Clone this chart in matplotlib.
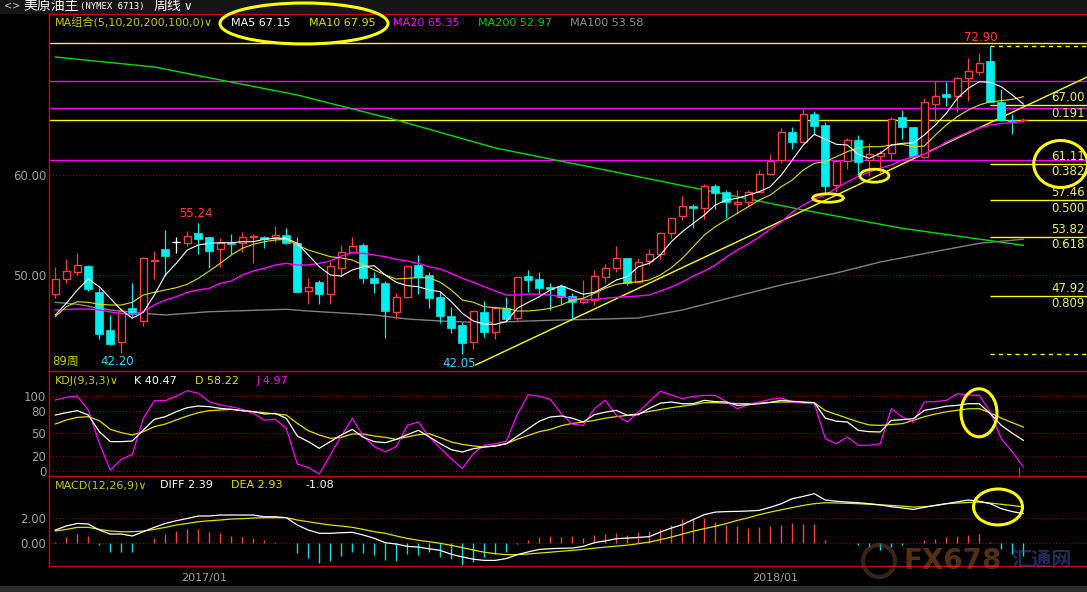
import numpy as np
import matplotlib.pyplot as plt
from matplotlib.patches import Ellipse, Rectangle

plt.rcParams['font.family'] = ['DejaVu Sans', 'Noto Sans CJK SC']

# weekly candles, 89 weeks (index 0..88)
opens = [48.07, 49.57, 50.27, 50.90, 48.27, 44.50, 43.27, 46.67, 45.43, 51.40,
         52.60, 53.27, 53.23, 54.17, 53.77, 52.57, 53.17, 53.17, 53.77, 53.77,
         53.83, 54.00, 53.17, 48.43, 49.27, 48.13, 50.67, 52.27, 53.00, 49.67,
         49.17, 46.33, 47.83, 51.00, 50.00, 47.80, 45.90, 45.00, 43.27, 46.30,
         44.33, 46.67, 45.67, 49.90, 49.60, 48.77, 48.93, 47.90, 47.27, 47.50,
         49.83, 50.67, 51.67, 49.33, 51.43, 52.07, 54.17, 55.93, 56.87, 56.73,
         58.90, 58.27, 57.13, 57.33, 58.33, 60.10, 61.50, 64.27, 63.33, 66.07,
         65.00, 59.00, 61.43, 63.50, 61.50, 61.90, 62.17, 65.77, 64.77, 61.83,
         67.07, 68.10, 67.93, 69.67, 70.33, 71.40, 67.33, 65.50, 65.45]
highs = [50.83, 51.60, 52.17, 51.00, 48.67, 46.00, 46.67, 49.17, 51.80, 52.40,
         54.50, 53.83, 54.40, 55.24, 53.77, 53.67, 54.07, 54.27, 54.07, 53.93,
         54.93, 54.67, 53.77, 49.67, 49.50, 51.33, 53.00, 53.77, 53.17, 50.27,
         49.40, 48.23, 50.90, 52.00, 50.27, 48.33, 46.77, 45.33, 46.37, 47.40,
         46.93, 47.80, 49.77, 50.50, 50.27, 49.17, 49.07, 48.17, 49.50, 50.50,
         51.10, 52.90, 51.67, 51.67, 52.60, 54.33, 55.67, 57.93, 57.10, 59.07,
         59.07, 58.50, 58.50, 58.50, 60.50, 62.10, 64.73, 64.80, 66.60, 66.40,
         65.27, 61.50, 63.73, 64.00, 63.17, 62.50, 65.83, 66.50, 64.80, 67.73,
         69.40, 69.27, 69.83, 71.73, 72.17, 72.90, 68.57, 66.10, 65.70]
lows = [47.73, 49.17, 50.00, 48.40, 43.60, 43.03, 42.20, 45.83, 44.90, 49.57,
        49.93, 52.17, 52.93, 52.07, 50.67, 50.83, 52.07, 52.27, 51.17, 52.67,
        53.33, 53.07, 48.33, 47.07, 47.07, 47.07, 49.83, 52.27, 49.17, 48.23,
        43.73, 45.57, 47.73, 48.10, 46.73, 45.23, 44.23, 42.05, 42.60, 43.83,
        43.60, 45.40, 45.40, 48.27, 48.07, 46.50, 47.07, 45.50, 47.07, 47.00,
        49.17, 50.27, 49.00, 49.17, 51.00, 51.60, 53.73, 55.50, 54.73, 55.60,
        56.60, 55.73, 56.07, 56.83, 58.33, 60.00, 61.17, 62.60, 63.23, 64.00,
        58.07, 58.27, 60.60, 60.00, 59.93, 60.17, 61.40, 63.57, 61.80, 61.70,
        65.27, 66.93, 66.30, 67.40, 70.00, 67.33, 65.40, 64.05, 65.25]
closes = [49.60, 50.37, 50.97, 48.60, 44.13, 43.13, 46.40, 46.07, 51.67, 51.45,
          51.93, 53.27, 53.87, 53.63, 52.43, 53.17, 53.10, 53.83, 53.93, 53.63,
          53.97, 53.17, 48.33, 48.77, 48.10, 50.87, 52.27, 52.90, 49.67, 49.17,
          46.43, 47.83, 50.90, 49.77, 47.73, 45.93, 44.73, 43.23, 46.37, 44.33,
          46.67, 45.60, 49.77, 49.50, 48.73, 48.63, 47.83, 47.33, 47.60, 49.90,
          50.67, 51.67, 49.17, 51.33, 52.07, 54.17, 55.67, 56.87, 56.73, 58.90,
          58.23, 57.27, 57.30, 58.27, 60.07, 61.43, 64.27, 63.33, 66.07, 64.90,
          58.93, 61.43, 63.50, 61.33, 62.07, 62.20, 65.57, 64.77, 61.83, 67.27,
          67.90, 67.83, 69.73, 70.40, 71.17, 67.33, 65.50, 65.40, 65.50]

ma5 = [46.0, 47.17, 48.5, 49.6, 48.83, 47.67, 46.5, 45.67, 46.27, 48.0,
       50.0, 51.17, 52.5, 53.0, 53.17, 53.23, 53.23, 53.33, 53.33, 53.57,
       53.67, 53.67, 53.17, 52.0, 50.83, 50.0, 49.9, 50.5, 50.83, 50.93,
       50.0, 49.27, 48.93, 48.83, 48.5, 48.33, 47.33, 46.17, 45.4, 45.07,
       45.07, 45.33, 46.67, 47.27, 47.83, 48.5, 48.93, 48.5, 48.07, 48.27,
       48.83, 49.5, 49.83, 50.83, 51.17, 52.0, 53.33, 54.33, 55.17, 56.0,
       57.0, 57.5, 57.67, 58.0, 58.33, 58.83, 60.0, 61.5, 63.0, 64.07,
       63.57, 63.07, 63.0, 62.07, 61.67, 62.17, 63.0, 63.17, 63.2, 64.0,
       65.0, 66.17, 67.67, 68.67, 69.33, 69.27, 68.83, 68.0, 67.1]
ma10 = [45.83, 46.83, 47.33, 47.27, 47.07, 47.0, 47.0, 47.27, 48.0, 48.27,
        48.5, 48.73, 49.07, 49.67, 50.4, 51.17, 52.0, 52.67, 53.07, 53.33,
        53.5, 53.57, 53.0, 52.5, 52.17, 51.83, 51.7, 51.5, 51.0, 50.5,
        50.0, 49.6, 49.67, 49.73, 49.73, 49.27, 48.5, 47.5, 47.27, 46.83,
        46.73, 46.67, 46.4, 46.4, 46.5, 46.67, 47.0, 47.5, 47.67, 48.17,
        48.67, 49.07, 49.23, 49.33, 49.5, 50.0, 50.73, 51.67, 52.83, 54.0,
        54.83, 55.5, 56.17, 56.83, 57.5, 58.0, 58.83, 59.5, 60.5, 61.17,
        61.33, 61.83, 62.33, 62.73, 62.83, 62.83, 63.0, 63.07, 62.83, 62.9,
        64.0, 65.0, 65.83, 66.5, 67.0, 67.33, 67.43, 67.57, 67.83]
ma20 = [46.5, 46.55, 46.6, 46.6, 46.5, 46.3, 46.15, 46.07, 46.33, 47.0,
        47.5, 47.83, 48.27, 48.5, 48.67, 49.17, 49.4, 50.0, 50.4, 50.67,
        51.0, 51.17, 51.0, 51.0, 51.17, 51.4, 51.9, 52.23, 52.17, 52.0,
        51.83, 51.57, 51.4, 51.17, 50.83, 50.6, 50.17, 49.67, 49.27, 48.83,
        48.4, 48.0, 48.0, 48.1, 48.07, 48.0, 47.83, 47.67, 47.5, 47.57,
        47.67, 47.77, 47.83, 47.9, 48.0, 48.4, 48.8, 49.3, 49.9, 50.4,
        51.0, 51.8, 52.5, 53.1, 53.8, 54.6, 55.3, 56.3, 57.0, 57.6,
        58.0, 58.7, 59.3, 59.85, 60.3, 60.7, 61.0, 61.5, 61.8, 62.1,
        62.6, 63.3, 63.8, 64.3, 64.7, 65.0, 65.15, 65.25, 65.35]
ma100_idx = [0, 2, 5, 8, 10, 14, 19, 21, 23, 26, 29, 32, 35, 39, 43, 46, 50, 53,
             57, 62, 66, 71, 75, 80, 84, 88]
ma100 = [47.27, 47.07, 46.5, 46.17, 46.0, 46.33, 46.5, 46.57, 46.4, 46.2, 46.0,
         45.6, 45.4, 45.23, 45.4, 45.5, 45.6, 45.7, 46.5, 47.9, 49.0, 50.2,
         51.3, 52.35, 53.17, 53.58]
ma200_idx = [0, 9, 22, 31, 40, 50, 59, 68, 77, 88]
ma200 = [71.8, 70.8, 68.0, 65.5, 62.7, 60.5, 58.5, 56.5, 54.67, 52.97]

k_line = [74.2, 77.3, 80.0, 74.2, 52.0, 38.7, 38.7, 39.6, 54.2, 68.4,
          72.0, 78.7, 84.0, 86.2, 85.3, 83.1, 81.8, 80.0, 78.7, 75.6,
          76.4, 69.8, 46.2, 38.7, 29.8, 38.7, 47.6, 55.1, 44.4, 38.7,
          37.3, 41.8, 48.0, 53.8, 45.0, 36.0, 28.0, 24.9, 29.3, 31.6,
          33.0, 36.0, 46.0, 56.0, 66.0, 71.6, 72.9, 70.0, 64.9, 74.7,
          78.0, 80.4, 73.8, 74.7, 83.0, 90.0, 91.6, 89.3, 89.3, 93.8,
          92.0, 91.6, 87.1, 88.0, 89.3, 91.0, 93.8, 92.5, 91.5, 90.7,
          70.0, 66.0, 64.9, 53.8, 52.0, 51.6, 67.1, 68.0, 69.3, 80.4,
          83.0, 86.0, 87.1, 89.3, 89.3, 76.0, 60.4, 50.0, 40.47]
d_line = [62.2, 67.6, 71.1, 72.0, 66.7, 55.1, 50.7, 47.6, 52.0, 58.7,
          62.2, 67.6, 72.9, 77.3, 80.0, 80.9, 81.8, 80.0, 78.7, 77.3,
          75.6, 74.2, 63.1, 53.3, 47.6, 43.1, 44.4, 48.9, 48.9, 46.2,
          44.4, 41.8, 45.0, 48.0, 49.3, 44.0, 38.2, 35.0, 33.0, 31.6,
          33.0, 36.0, 42.0, 47.0, 52.0, 55.0, 60.0, 63.0, 64.9, 67.0,
          70.0, 72.0, 73.8, 76.0, 79.0, 81.5, 84.0, 86.0, 88.0, 90.7,
          90.7, 90.0, 89.5, 89.3, 90.0, 91.0, 91.6, 91.5, 91.0, 90.7,
          80.0, 75.0, 70.0, 65.0, 61.0, 60.4, 61.5, 62.7, 67.0, 72.0,
          75.5, 78.5, 80.5, 82.5, 82.7, 77.0, 70.0, 64.0, 58.22]
j_line = [94.2, 97.8, 99.6, 80.9, 36.4, 0.9, 15.1, 21.8, 69.8, 93.3,
          93.3, 99.6, 106.7, 103.1, 92.0, 87.6, 85.3, 81.8, 76.4, 67.6,
          68.4, 56.4, 8.9, 4.4, -4.4, 20.9, 46.2, 69.8, 46.2, 32.0,
          25.3, 32.0, 60.4, 64.9, 44.9, 30.0, 16.0, 2.7, 22.7, 33.8,
          36.0, 39.1, 75.0, 101.3, 99.5, 95.0, 76.0, 62.0, 60.4, 82.7,
          93.8, 73.8, 64.9, 78.2, 92.0, 105.8, 101.0, 96.0, 99.0, 100.4,
          100.4, 92.0, 82.7, 88.0, 91.6, 95.0, 96.9, 91.6, 90.0, 89.3,
          42.7, 36.0, 44.9, 33.8, 34.0, 36.0, 82.7, 71.6, 64.9, 91.6,
          92.0, 93.8, 102.7, 101.0, 100.4, 78.2, 42.7, 24.9, 4.97]

diff = [1.04, 1.37, 1.58, 1.53, 1.04, 0.71, 0.71, 0.55, 0.9, 1.26,
        1.58, 1.8, 1.99, 2.19, 2.19, 2.27, 2.27, 2.27, 2.27, 2.13,
        2.13, 2.05, 1.45, 1.04, 0.77, 0.77, 0.82, 0.85, 0.63, 0.36,
        0.0, -0.11, -0.3, -0.36, -0.5, -0.63, -0.95, -1.17, -1.35, -1.45,
        -1.45, -1.3, -0.98, -0.75, -0.55, -0.49, -0.46, -0.44, -0.3, 0.0,
        0.15, 0.33, 0.38, 0.43, 0.5, 0.87, 1.2, 1.48, 1.9, 2.3,
        2.51, 2.55, 2.57, 2.6, 2.65, 2.9, 3.2, 3.61, 3.8, 4.02,
        3.5, 3.4, 3.33, 3.28, 3.2, 3.1, 2.95, 2.85, 2.73, 2.9,
        3.06, 3.2, 3.35, 3.5, 3.4, 3.2, 2.79, 2.55, 2.39]
dea = [0.96, 1.09, 1.26, 1.26, 1.09, 0.96, 0.9, 0.9, 0.96, 1.09,
       1.26, 1.45, 1.58, 1.72, 1.8, 1.86, 1.94, 1.97, 2.02, 2.05,
       2.05, 2.05, 1.86, 1.72, 1.58, 1.45, 1.37, 1.26, 1.09, 0.9,
       0.77, 0.55, 0.35, 0.2, 0.08, -0.05, -0.22, -0.4, -0.6, -0.78,
       -0.9, -0.98, -0.98, -0.92, -0.85, -0.78, -0.7, -0.63, -0.55, -0.45,
       -0.36, -0.28, -0.2, -0.08, 0.05, 0.25, 0.46, 0.7, 0.95, 1.15,
       1.35, 1.57, 1.83, 2.05, 2.3, 2.51, 2.7, 2.88, 3.06, 3.2,
       3.28, 3.26, 3.23, 3.2, 3.15, 3.1, 3.06, 3.0, 2.92, 2.95,
       3.05, 3.2, 3.25, 3.3, 3.33, 3.25, 3.15, 3.05, 2.93]
macd_bar = [0.08, 0.49, 0.71, 0.55, -0.19, -0.74, -0.74, -0.74, -0.02, 0.41,
            0.71, 0.96, 1.12, 1.12, 0.9, 0.82, 0.55, 0.49, 0.41, 0.22,
            0.08, 0.0, -0.82, -1.28, -1.64, -1.48, -1.09, -0.74, -0.87, -1.01,
            -1.42, -1.48, -0.9, -0.98, -0.77, -1.17, -1.31, -1.8, -1.58, -1.17,
            -0.9, -0.77, -0.08, 0.19, 0.46, 0.55, 0.46, 0.55, 0.38, 0.6,
            0.68, 0.79, 0.6, 0.87, 0.93, 1.15, 1.48, 1.97, 1.97, 2.05,
            1.69, 1.42, 1.34, 1.2, 1.28, 1.37, 1.42, 1.64, 1.56, 1.56,
            0.19, 0.0, -0.03, -0.22, -0.36, -0.63, -0.36, -0.22, 0.0, 0.19,
            0.33, 0.46, 0.52, 0.6, 0.68, 0.05, -0.49, -0.9, -1.08]

# fibonacci retracement from 42.05 up to 72.90
fib_high, fib_low = 72.90, 42.05
fib_prices = [67.00, 61.11, 57.46, 53.82, 47.92]
fib_ratios = ["0.191", "0.382", "0.500", "0.618", "0.809"]
fib_start = 85
yellow_levels = [73.15, 65.47]
magenta_levels = [69.43, 66.67, 61.47]
trend_x = [38.2, 93.8]
trend_y = [41.0, 69.8]
date_ticks = [13.5, 65.4]
date_labels = ["2017/01", "2018/01"]

RED = '#ff3c3c'
CYAN = '#00eeee'
BORDER = '#d00000'
GRID = '#8a0000'
GRAY_TXT = '#a0a0a0'
OLIVE = '#c8c800'

W, H = 1087, 592
fig = plt.figure(figsize=(W / 100, H / 100), dpi=100, facecolor='black')


def rect(x0, y0, x1, y1):
    return [x0 / W, 1 - y1 / H, (x1 - x0) / W, (y1 - y0) / H]


def ftxt(x, y, s, color, size=8, **kw):
    fig.text(x / W, 1 - y / H, s, color=color, fontsize=size, va='center', **kw)


ax = fig.add_axes(rect(49, 14, 1087, 371))
axk = fig.add_axes(rect(49, 371, 1087, 476))
axm = fig.add_axes(rect(49, 476, 1087, 566))

n = len(opens)
x = np.arange(n)
o, h, l, c = (np.array(v) for v in (opens, highs, lows, closes))
xlim = (-0.573, 93.79)

for a in (ax, axk, axm):
    a.set_facecolor('black')
    a.set_xlim(*xlim)
    for s in ('right', 'bottom'):
        a.spines[s].set_visible(False)
    for s in ('left', 'top'):
        a.spines[s].set_color(BORDER)
        a.spines[s].set_linewidth(1.0)
    a.tick_params(axis='y', length=0, colors=GRAY_TXT, labelsize=8.5, pad=2)
    a.tick_params(axis='x', length=0)
    a.set_xticks([])
axm.spines['bottom'].set_visible(True)
axm.spines['bottom'].set_color(BORDER)

# ---- main price panel
ax.set_ylim(40.4, 76.1)
ax.set_yticks([50, 60])
ax.set_yticklabels(['50.00', '60.00'])
for lv in (50, 60):
    ax.axhline(lv, color=GRID, lw=0.8, ls=(0, (1, 2)), zorder=0)

for lv in yellow_levels:
    ax.axhline(lv, color='#ffff00', lw=1.0, zorder=1)
for lv in magenta_levels:
    ax.axhline(lv, color='#ff00ff', lw=1.0, zorder=1)
for p in fib_prices:
    ax.hlines(p, fib_start, xlim[1], color='#ffff00', lw=1.0, zorder=1)
for p in (fib_high, fib_low):
    ax.hlines(p, fib_start, xlim[1], color='#ffff00', lw=1.0, ls=(0, (3, 3)), zorder=1)

ax.plot(ma200_idx, ma200, color='#00dd00', lw=1.0, zorder=2)
ax.plot(ma100_idx, ma100, color='#808080', lw=1.0, zorder=2)
ax.plot(trend_x, trend_y, color='#ffff00', lw=1.0, zorder=2)

up = c > o
dn = c < o
fl = c == o
lo_b = np.minimum(o, c)
hi_b = np.maximum(o, c)
ax.vlines(x[dn], l[dn], h[dn], color=CYAN, lw=0.9, zorder=3)
ax.bar(x[dn], hi_b[dn] - lo_b[dn], 0.72, bottom=lo_b[dn], color=CYAN,
       edgecolor=CYAN, lw=0.5, zorder=4)
ax.vlines(x[up], hi_b[up], h[up], color=RED, lw=0.9, zorder=3)
ax.vlines(x[up], l[up], lo_b[up], color=RED, lw=0.9, zorder=3)
ax.bar(x[up], hi_b[up] - lo_b[up], 0.66, bottom=lo_b[up], facecolor='black',
       edgecolor=RED, lw=1.0, zorder=4)
ax.vlines(x[fl], l[fl], h[fl], color='white', lw=0.9, zorder=3)
ax.hlines(c[fl], x[fl] - 0.36, x[fl] + 0.36, color='white', lw=1.0, zorder=4)

ax.plot(x, ma20, color='#ff00ff', lw=1.0, zorder=5)
ax.plot(x, ma10, color='#e0e000', lw=0.8, zorder=5)
ax.plot(x, ma5, color='white', lw=0.8, zorder=5)

for p, r in zip(fib_prices, fib_ratios):
    ax.annotate(f"{p:.2f}", xy=(1, p), xycoords=('axes fraction', 'data'),
                xytext=(-1.5, 5.5), textcoords='offset points', ha='right',
                va='center', color='#f0f060', fontsize=8.5, zorder=7)
    ax.annotate(r, xy=(1, p), xycoords=('axes fraction', 'data'),
                xytext=(-1.5, -5.8), textcoords='offset points', ha='right',
                va='center', color='#f0f060', fontsize=8.5, zorder=7)

imax = int(np.argmax(h))
ax.annotate(f"{h[imax]:.2f}", xy=(imax, h[imax]), xytext=(-6.5, 5.8),
            textcoords='offset points', ha='center', va='center', color=RED, fontsize=8.5)
ax.annotate(f"{h[13]:.2f}", xy=(13, h[13]), xytext=(-1.5, 6.2),
            textcoords='offset points', ha='center', va='center', color=RED, fontsize=8.5)
ax.annotate(f"{l[6]:.2f}", xy=(6, l[6]), xytext=(-3, -5.8),
            textcoords='offset points', ha='center', va='center', color='#30d8ff', fontsize=8.5)
ax.annotate(f"{l[37]:.2f}", xy=(37, l[37]), xytext=(-2.5, -6.8),
            textcoords='offset points', ha='center', va='center', color='#30d8ff', fontsize=8.5)

for cx, cy, ew, eh, lw in [(70.25, 57.7, 2.8, 0.85, 2.0), (74.46, 59.93, 2.64, 1.3, 2.0),
                           (91.4, 61.1, 4.9, 4.7, 2.2)]:
    ax.add_patch(Ellipse((cx, cy), ew, eh, fill=False, ec='#ffff00', lw=lw, zorder=8))

# ---- KDJ panel
axk.set_ylim(-7.1, 132.9)
axk.set_yticks([0, 20, 50, 80, 100])
for lv in (0, 20, 50, 80, 100):
    axk.axhline(lv, color=GRID, lw=0.8, ls=(0, (1, 2)), zorder=0)
axk.plot(x, d_line, color='#e0e000', lw=0.9)
axk.plot(x, j_line, color='#ff00ff', lw=0.9)
axk.plot(x, k_line, color='white', lw=0.9)
axk.vlines(x[-1] - 0.35, -7.1, j_line[-1], color='#ff00ff', lw=0.8)
axk.add_patch(Ellipse((83.97, 77.2), 3.27, 64, fill=False, ec='#ffff00', lw=2.2, zorder=8))

# ---- MACD panel
axm.set_ylim(-1.91, 5.47)
axm.set_yticks([0, 2])
axm.set_yticklabels(['0.00', '2.00'])
for lv in (0, 2):
    axm.axhline(lv, color=GRID, lw=0.8, ls=(0, (1, 2)), zorder=0)
mb = np.array(macd_bar)
axm.vlines(x[mb >= 0], 0, mb[mb >= 0], color='#ff4040', lw=1.0)
axm.vlines(x[mb < 0], 0, mb[mb < 0], color='#00dede', lw=1.0)
axm.plot(x, dea, color='#e0e000', lw=0.9)
axm.plot(x, diff, color='white', lw=0.9)
axm.add_patch(Ellipse((85.7, 2.93), 4.45, 2.95, fill=False, ec='#ffff00', lw=2.2, zorder=8))
axm.set_xticks(date_ticks)
axm.set_xticklabels(date_labels, color=GRAY_TXT, fontsize=8)
axm.tick_params(axis='x', length=0, pad=5)

# ---- frame, headers, watermark
fig.patches.append(Rectangle((0, 1 - 13 / H), 1, 13 / H, transform=fig.transFigure,
                             color='#161616', zorder=-1))
fig.patches.append(Rectangle((0, 0), 1, 6 / H, transform=fig.transFigure,
                             color='#2e2e2e', zorder=-1))
ftxt(4, 6, "<>", '#c0c0c0', 7)
ftxt(23, 6, "美原油主", 'white', 10)
ftxt(80, 6, "(NYMEX 6713)", 'white', 6.5, family='DejaVu Sans Mono')
ftxt(154, 6, "周线", 'white', 10)
ftxt(183, 6, "∨", 'white', 8.5)

ftxt(55, 23, "MA组合(5,10,20,200,100,0)∨", OLIVE, 8)
ftxt(231, 23, "MA5 67.15", 'white', 8)
ftxt(309, 23, "MA10 67.95", '#e0e000', 8)
ftxt(393, 23, "MA20 65.35", '#ff00ff', 8)
ftxt(478, 23, "MA200 52.97", '#00d000', 8)
ftxt(570, 23, "MA100 53.58", '#909090', 8)
fig.patches.append(Ellipse((304 / W, 1 - 23.5 / H), 168 / W, 41 / H, transform=fig.transFigure,
                           fill=False, ec='#ffff00', lw=2.2, zorder=9))
ftxt(52, 361, "89周", OLIVE, 8.5)

ftxt(55, 381, "KDJ(9,3,3)∨", OLIVE, 8)
ftxt(134, 381, "K 40.47", 'white', 8)
ftxt(195, 381, "D 58.22", '#e0e000', 8)
ftxt(257, 381, "J 4.97", '#ff00ff', 8)

ftxt(55, 485, "MACD(12,26,9)∨", OLIVE, 8)
ftxt(160, 485, "DIFF 2.39", 'white', 8)
ftxt(231, 485, "DEA 2.93", '#e0e000', 8)
ftxt(305, 485, "-1.08", 'white', 8)

fig.patches.append(Ellipse((879 / W, 1 - 561 / H), 32 / W, 32 / H, transform=fig.transFigure,
                           fill=False, ec='#6a4a30', lw=3, alpha=0.5, zorder=9))
ftxt(903, 561, "FX678", '#b86a2a', 20, weight='bold', alpha=0.45)
ftxt(1011, 561, "汇通网", '#3c5aa8', 14.5, weight='bold', alpha=0.5)

fig.savefig('out.png', dpi=100, facecolor='black')
